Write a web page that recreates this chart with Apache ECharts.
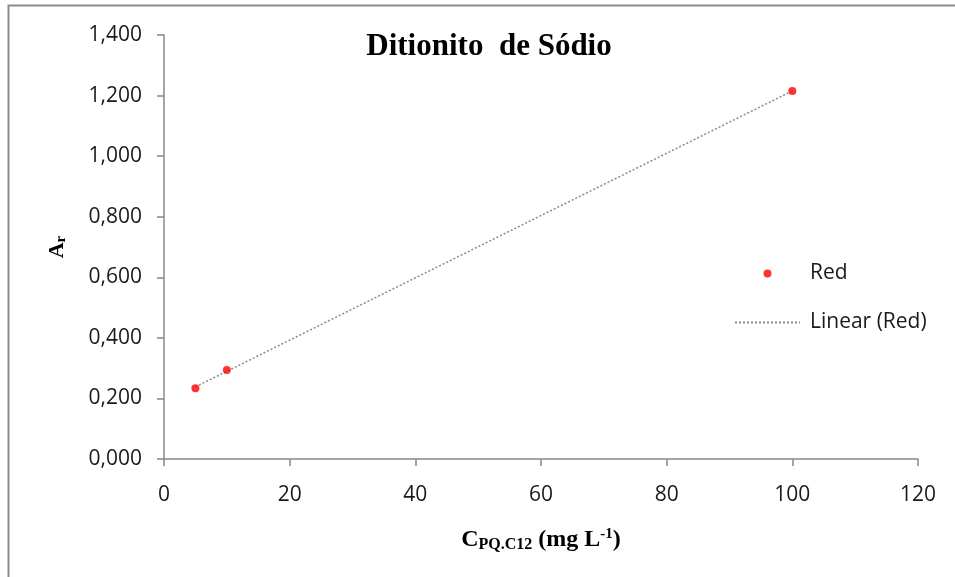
<!DOCTYPE html>
<html><head><meta charset="utf-8">
<script src="https://cdn.jsdelivr.net/npm/echarts@6/dist/echarts.min.js"></script>
<style>html,body{margin:0;padding:0;background:#fff}#c{width:955px;height:577px}</style>
</head><body><div id="c"></div>
<script>
const xValues = [5, 10, 100];
const yValues = [0.234, 0.294, 1.215];
const xTicks = [0, 20, 40, 60, 80, 100, 120];
const yTicks = [0, 0.2, 0.4, 0.6, 0.8, 1.0, 1.2, 1.4];

// linear regression (trendline) from the data
const n = xValues.length;
const mx = xValues.reduce((a,b)=>a+b,0)/n;
const my = yValues.reduce((a,b)=>a+b,0)/n;
let sxy=0, sxx=0;
for (let i=0;i<n;i++){ sxy+=(xValues[i]-mx)*(yValues[i]-my); sxx+=(xValues[i]-mx)**2; }
const slope = sxy/sxx, intercept = my - slope*mx;
const xMin = Math.min(...xValues), xMax = Math.max(...xValues);
const trend = [[xMin, intercept+slope*xMin],[xMax, intercept+slope*xMax]];

const chart = echarts.init(document.getElementById('c'), null, {renderer:'canvas'});
const labelFont = '"Open Sans", "DejaVu Sans", sans-serif';
const serif = '"Liberation Serif", "DejaVu Serif", serif';
chart.setOption({
  animation:false,
  backgroundColor:'#fff',
  title:{
    text:'Ditionito  de Sódio', left:484, top:26, textAlign:'center',
    textStyle:{fontFamily:serif, fontWeight:'bold', fontSize:31, color:'#000'}
  },
  graphic:[
    {type:'rect', shape:{x:8.5,y:5.5,width:1000,height:700}, style:{fill:'none', stroke:'#8c8c8c', lineWidth:2}, silent:true, z:-1}
  ],
  grid:{left:164, right:37, top:35, bottom:118},
  legend:{
    orient:'vertical', left:729, top:258, itemWidth:65, itemHeight:8, itemGap:28,
    textStyle:{fontFamily:labelFont, fontSize:21, color:'#1a1a1a', padding:[0,0,0,5]},
    data:[{name:'Red', icon:'circle'}, {name:'Linear (Red)', itemStyle:{opacity:0}}]
  },
  xAxis:{
    type:'value', min:0, max:120, interval:20,
    axisLine:{lineStyle:{color:'#888', width:1.5}},
    axisTick:{show:true, length:7, lineStyle:{color:'#888', width:1.5}},
    splitLine:{show:false},
    axisLabel:{fontFamily:labelFont, fontSize:21, color:'#1a1a1a', margin:26},
    name:'{c|C}{sub|PQ.C12}{c| (mg L}{sup|-1}{c|)}',
    nameLocation:'middle', nameGap:68,
    nameTextStyle:{
      rich:{
        c:{fontFamily:serif, fontWeight:'bold', fontSize:24, color:'#000'},
        sub:{fontFamily:serif, fontWeight:'bold', fontSize:16, color:'#000', verticalAlign:'bottom', padding:[9,0,0,0]},
        sup:{fontFamily:serif, fontWeight:'bold', fontSize:15, color:'#000', verticalAlign:'top', padding:[0,0,11,0]}
      }
    }
  },
  yAxis:{
    type:'value', min:0, max:1.4, interval:0.2,
    axisLine:{show:true, lineStyle:{color:'#888', width:1.5}},
    axisTick:{show:true, length:7, lineStyle:{color:'#888', width:1.5}},
    splitLine:{show:false},
    axisLabel:{fontFamily:labelFont, fontSize:21, color:'#1a1a1a', margin:22,
      formatter:v=>v.toFixed(3).replace('.', ',')},
    name:'{c|A}{sub|r}',
    nameLocation:'middle', nameGap:95, nameRotate:90,
    nameTextStyle:{
      rich:{
        c:{fontFamily:serif, fontWeight:'bold', fontSize:22, color:'#000'},
        sub:{fontFamily:serif, fontWeight:'bold', fontSize:15, color:'#000', verticalAlign:'bottom', padding:[8,0,0,0]}
      }
    }
  },
  series:[
    {
      name:'Linear (Red)', type:'line', data:trend, symbol:'none', showSymbol:false,
      lineStyle:{color:'#8a8a8a', width:1.5, type:[2,2]}, itemStyle:{color:'#8a8a8a'}, z:1
    },
    {
      name:'Red', type:'scatter', data:xValues.map((x,i)=>[x,yValues[i]]),
      symbol:'circle', symbolSize:8, itemStyle:{color:'#ff0000'}, z:3
    }
  ]
});
</script></body></html>
